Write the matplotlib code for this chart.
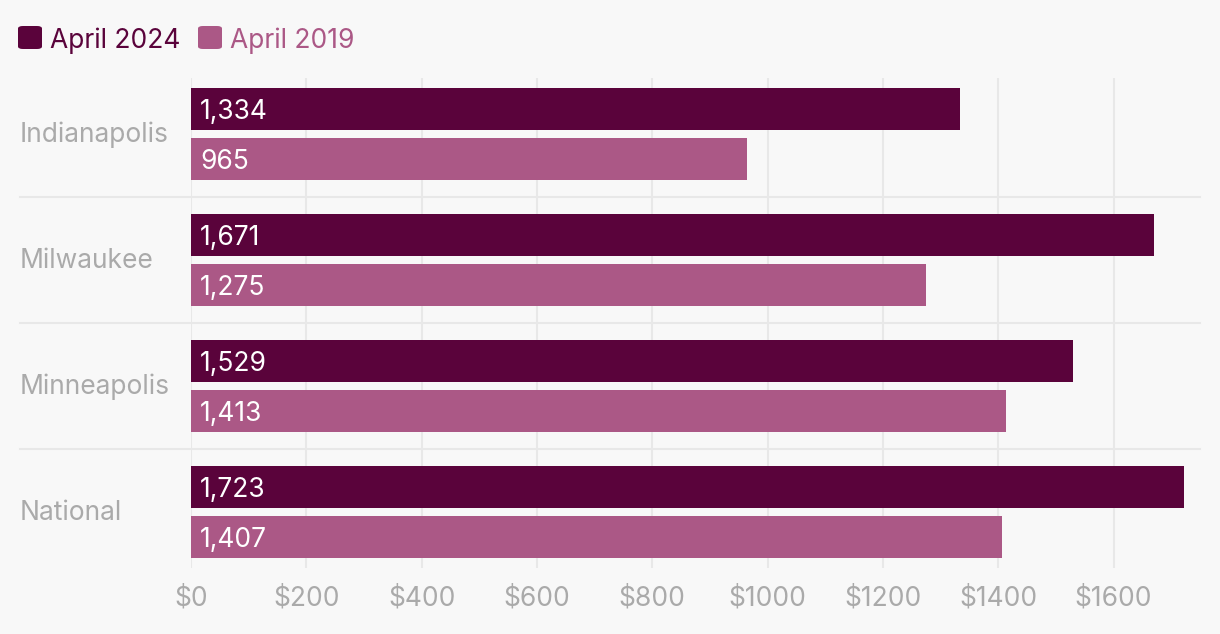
import matplotlib
matplotlib.use("Agg")
import matplotlib.pyplot as plt
from matplotlib.patches import FancyBboxPatch
from matplotlib.lines import Line2D
from matplotlib.transforms import blended_transform_factory, offset_copy
import numpy as np

categories = ["Indianapolis", "Milwaukee", "Minneapolis", "National"]
series_names = ["April 2024", "April 2019"]
values_2024 = [1334, 1671, 1529, 1723]
values_2019 = [965, 1275, 1413, 1407]
xticks = [0, 200, 400, 600, 800, 1000, 1200, 1400, 1600]
xtick_labels = ["$0", "$200", "$400", "$600", "$800", "$1000", "$1200", "$1400", "$1600"]

dark = "#5a033b"
light = "#ab5886"
bg = "#f8f8f8"
grey_text = "#aaaaaa"
grid_col = "#e8e8e8"

plt.rcParams['font.family'] = ['Inter', 'DejaVu Sans']

W, H = 1220, 634
fig = plt.figure(figsize=(W / 100, H / 100), dpi=100, facecolor=bg)
ax = fig.add_axes([191 / W, 1 - 568 / H, (1200 - 191) / W, (568 - 78) / H])
ax.set_facecolor(bg)

y = np.arange(len(categories))
bh = 42 / 126
off = 25 / 126
b1 = ax.barh(y - off, values_2024, height=bh, color=dark, zorder=3)
b2 = ax.barh(y + off, values_2019, height=bh, color=light, zorder=3)

fs = 19
for bars, vals in ((b1, values_2024), (b2, values_2019)):
    for rect, v in zip(bars, vals):
        ax.annotate(f"{v:,}", xy=(0, rect.get_y() + rect.get_height() / 2),
                    xytext=(6.5, 0), textcoords="offset points",
                    ha="left", va="center_baseline", color="white", fontsize=fs, zorder=4)

ax.set_xlim(0, 1750)
ax.set_ylim(3.5 - 7 / 126, -0.5 + 7 / 126)
ax.set_xticks(xticks)
ax.set_xticklabels(xtick_labels, fontsize=fs, color=grey_text)
ax.tick_params(axis="x", length=0, pad=12.5)
ax.set_yticks([])
for s in ax.spines.values():
    s.set_visible(False)
ax.grid(axis="x", color=grid_col, linewidth=1.5, zorder=0)
ax.set_axisbelow(True)

tr = blended_transform_factory(fig.transFigure, ax.transData)
tr_lab = offset_copy(tr, fig=fig, x=0, y=1.5, units="points")
for i, c in enumerate(categories):
    ax.text(20 / W, i, c, transform=tr_lab, ha="left", va="center_baseline",
            fontsize=fs, color=grey_text)
for b in np.arange(0.5, len(categories) - 0.5, 1.0):
    ax.add_line(Line2D([20 / W, 1200 / W], [b, b], transform=tr, color=grid_col,
                       linewidth=1.5, clip_on=False, zorder=1))

# legend
leg_y = 1 - 38 / H
for x0, name, col in ((18, series_names[0], dark), (198, series_names[1], light)):
    fig.patches.append(FancyBboxPatch((x0 / W, 1 - 49 / H), 24 / W, 23 / H,
                                      boxstyle="round,pad=0,rounding_size=0.004",
                                      transform=fig.transFigure, facecolor=col,
                                      edgecolor="none"))
    fig.text((x0 + 32) / W, leg_y, name, ha="left", va="center_baseline",
             fontsize=fs, color=col)

fig.savefig("out.png", dpi=100, facecolor=bg)
